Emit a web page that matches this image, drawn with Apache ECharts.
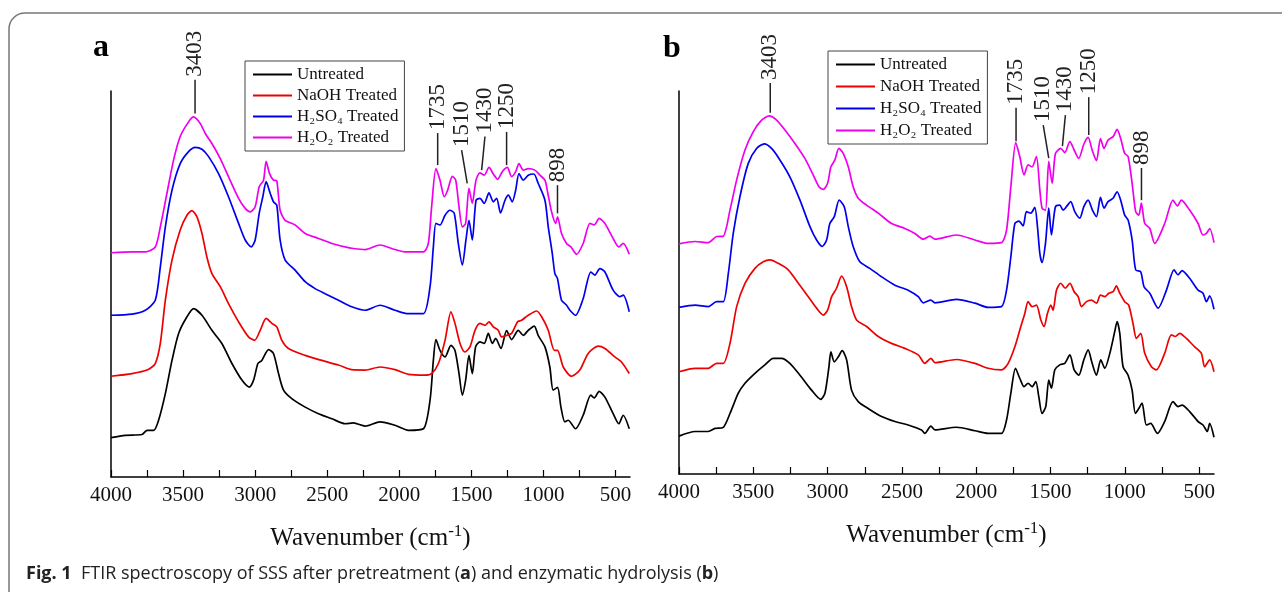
<!DOCTYPE html>
<html>
<head>
<meta charset="utf-8">
<title>FTIR spectroscopy of SSS</title>
<script src="https://cdn.jsdelivr.net/npm/echarts@6/dist/echarts.min.js"></script>
<style>
  html, body { margin: 0; padding: 0; background: #fff; }
  #chart { width: 1282px; height: 592px; }
</style>
</head>
<body>
<div id="chart"></div>
<script>
// series names (legend)
const names = ['Untreated', 'NaOH Treated', 'H₂SO₄ Treated', 'H₂O₂ Treated']
const colors = ['#000000', '#ee0000', '#0000ee', '#ee00ee']

// x axis: wavenumber (cm-1), labels every 500, ticks every 250
const tickLabels = [4000, 3500, 3000, 2500, 2000, 1500, 1000, 500]
const tickMarks = [4000, 3750, 3500, 3250, 3000, 2750, 2500, 2250, 2000, 1750, 1500, 1250, 1000, 750, 500]

// panel a: after pretreatment, [wavenumber, absorbance (a.u., offset)]
const aUntreated = [[4000,10.2],[3901,10.8],[3785,11.0],[3750,12.1],[3704,12.1],[3670,14.7],[3623,21.6],[3577,30.2],[3531,37.2],[3473,41.5],[3427,43.6],[3369,41.9],[3300,38.0],[3231,34.6],[3161,29.4],[3092,25.1],[3041,23.3],[3011,25.1],[2981,29.4],[2954,30.2],[2907,33.0],[2873,32.0],[2838,26.8],[2803,22.5],[2746,20.3],[2653,18.1],[2561,16.4],[2468,15.1],[2376,13.8],[2318,14.0],[2237,13.2],[2134,14.3],[2030,13.4],[1937,12.1],[1833,12.5],[1787,19.9],[1764,30.2],[1746,35.6],[1718,32.8],[1683,31.1],[1642,34.1],[1614,32.8],[1586,26.8],[1563,21.2],[1540,25.1],[1517,31.5],[1494,26.8],[1471,33.7],[1441,35.0],[1411,34.6],[1383,37.2],[1355,34.6],[1332,35.9],[1295,33.3],[1256,37.9],[1221,35.6],[1175,38.0],[1140,36.7],[1106,38.0],[1064,39.1],[1037,36.7],[990,33.7],[956,28.5],[933,22.5],[903,23.2],[879,18.1],[852,14.3],[829,14.7],[778,12.5],[725,16.0],[672,21.2],[648,20.5],[614,22.2],[574,20.7],[517,16.4],[478,13.8],[447,16.0],[405,12.5]]
const aNaOH = [[4000,26.1],[3854,26.8],[3750,27.7],[3693,29.4],[3658,34.6],[3623,45.8],[3577,56.2],[3520,64.0],[3473,67.8],[3439,69.0],[3404,67.4],[3369,63.1],[3335,57.0],[3300,52.7],[3242,49.3],[3185,44.9],[3115,40.2],[3046,36.3],[3004,35.4],[2965,38.0],[2924,41.1],[2884,39.8],[2850,38.9],[2815,35.4],[2769,33.3],[2653,31.5],[2538,30.2],[2422,29.0],[2330,27.8],[2237,27.7],[2134,28.5],[2030,27.8],[1937,26.6],[1822,26.4],[1776,26.8],[1729,29.4],[1683,35.4],[1642,42.8],[1614,39.8],[1579,34.6],[1545,32.4],[1510,33.7],[1475,38.0],[1441,39.8],[1406,39.3],[1378,40.2],[1348,38.9],[1314,38.0],[1291,36.3],[1256,36.7],[1221,37.2],[1180,40.2],[1152,40.6],[1106,41.9],[1048,43.0],[1013,41.5],[967,38.0],[925,32.8],[903,32.8],[863,28.5],[806,26.1],[748,27.7],[690,32.0],[621,33.9],[574,33.3],[505,31.1],[459,29.8],[405,26.8]]
const aH2SO4 = [[4000,41.9],[3854,42.2],[3762,43.2],[3693,45.8],[3658,54.4],[3623,64.8],[3577,74.3],[3520,81.2],[3462,84.3],[3416,85.4],[3369,84.9],[3323,83.0],[3254,78.6],[3185,72.6],[3115,65.7],[3069,61.4],[3027,59.6],[3000,61.4],[2972,68.3],[2947,72.6],[2924,76.5],[2896,73.5],[2873,71.3],[2850,70.4],[2827,61.4],[2792,56.2],[2723,53.6],[2653,50.6],[2584,48.8],[2515,47.5],[2422,45.8],[2330,44.1],[2237,43.2],[2134,44.5],[2030,43.2],[1937,42.3],[1833,42.3],[1787,49.3],[1764,59.6],[1746,65.7],[1718,65.3],[1683,67.8],[1649,69.1],[1619,68.3],[1591,60.5],[1563,54.9],[1538,61.4],[1517,66.5],[1494,61.4],[1468,71.7],[1441,72.2],[1411,70.9],[1378,73.6],[1348,71.3],[1325,72.2],[1298,68.4],[1267,71.7],[1244,73.0],[1217,71.3],[1193,74.3],[1170,78.6],[1140,76.9],[1106,78.2],[1067,78.5],[1037,76.1],[990,71.7],[967,64.8],[939,57.9],[921,52.7],[903,51.4],[875,45.8],[840,44.5],[817,43.2],[778,41.9],[725,46.2],[672,53.1],[644,52.3],[609,54.0],[574,53.1],[517,48.4],[470,46.7],[447,47.1],[405,42.8]]
const aH2O2 = [[4000,58.1],[3854,58.3],[3762,58.3],[3693,59.6],[3658,64.8],[3612,73.5],[3566,82.1],[3520,88.2],[3462,92.0],[3427,93.3],[3381,91.6],[3346,89.0],[3300,86.4],[3242,82.5],[3185,77.8],[3115,72.2],[3069,69.6],[3034,68.7],[3000,70.0],[2972,75.2],[2942,76.9],[2924,81.8],[2900,78.6],[2873,76.9],[2850,76.7],[2827,69.1],[2792,66.5],[2723,65.3],[2653,63.1],[2561,61.8],[2468,60.5],[2376,59.6],[2318,59.2],[2237,58.9],[2134,60.1],[2053,59.2],[1960,58.3],[1833,58.3],[1799,60.5],[1776,70.0],[1746,79.9],[1718,76.9],[1688,72.6],[1665,74.3],[1632,77.9],[1609,76.9],[1586,70.0],[1563,64.8],[1540,65.7],[1517,74.8],[1494,70.9],[1468,76.9],[1441,78.8],[1411,78.2],[1378,80.2],[1348,78.5],[1318,77.1],[1286,79.1],[1251,80.2],[1221,77.8],[1193,79.1],[1170,81.2],[1140,79.5],[1106,79.9],[1060,79.5],[1025,78.2],[990,76.9],[972,73.9],[944,68.7],[916,65.7],[903,67.4],[875,63.1],[840,60.5],[810,59.6],[771,57.7],[725,60.5],[678,65.7],[648,65.3],[614,67.0],[574,65.7],[517,61.8],[478,59.6],[447,60.5],[405,57.7]]

// panel b: after enzymatic hydrolysis
const bUntreated = [[4000,9.9],[3892,11.1],[3803,11.1],[3758,11.9],[3702,12.2],[3657,15.8],[3601,21.1],[3556,23.7],[3489,26.3],[3422,28.5],[3366,30.2],[3310,30.2],[3254,28.9],[3186,25.8],[3108,21.9],[3047,19.5],[3018,21.1],[2991,28.0],[2978,31.9],[2955,29.3],[2928,30.6],[2902,32.2],[2872,29.8],[2839,21.9],[2794,18.9],[2727,17.1],[2637,15.0],[2547,13.7],[2458,12.8],[2368,11.5],[2346,10.6],[2305,12.5],[2278,11.5],[2133,12.2],[2009,11.3],[1920,10.6],[1830,10.6],[1796,14.1],[1767,21.1],[1736,27.6],[1707,25.0],[1678,22.8],[1651,23.7],[1624,22.8],[1599,24.1],[1579,20.2],[1557,15.8],[1532,17.6],[1512,24.5],[1494,22.4],[1471,27.2],[1438,28.5],[1404,28.9],[1370,31.1],[1341,27.2],[1310,25.8],[1276,29.8],[1247,32.4],[1220,28.9],[1191,25.8],[1162,29.8],[1135,27.6],[1101,31.5],[1068,37.2],[1052,39.8],[1034,36.7],[1012,28.0],[978,25.8],[951,21.9],[929,15.8],[906,17.1],[884,18.5],[855,12.8],[826,13.2],[781,10.6],[732,13.7],[676,18.9],[642,17.6],[615,18.0],[564,16.3],[507,13.7],[474,12.8],[445,11.1],[429,13.2],[400,9.6]]
const bNaOH = [[4000,26.7],[3892,27.6],[3803,27.6],[3747,28.9],[3702,28.9],[3657,34.1],[3612,43.7],[3556,49.8],[3489,53.7],[3433,55.4],[3388,55.9],[3332,55.0],[3265,53.3],[3197,49.8],[3130,46.3],[3074,43.3],[3029,41.5],[3000,42.8],[2973,46.3],[2940,48.5],[2906,51.7],[2872,48.9],[2839,43.7],[2805,40.2],[2738,38.5],[2659,35.9],[2570,34.1],[2480,32.8],[2390,31.1],[2346,28.9],[2305,30.2],[2278,29.1],[2133,29.9],[2009,28.9],[1920,27.6],[1830,27.2],[1785,28.9],[1740,33.2],[1700,38.5],[1673,41.9],[1651,45.0],[1624,43.7],[1595,44.1],[1565,40.2],[1543,38.5],[1521,41.9],[1498,44.1],[1483,42.8],[1460,48.0],[1431,49.8],[1400,48.5],[1370,49.8],[1341,47.6],[1314,46.3],[1292,43.7],[1258,45.0],[1225,45.4],[1191,44.6],[1164,46.7],[1135,46.3],[1108,47.2],[1079,47.6],[1057,49.1],[1034,47.2],[1001,45.0],[974,44.1],[945,39.3],[922,35.4],[893,36.7],[866,31.5],[821,28.0],[788,27.2],[732,31.5],[687,36.3],[660,35.9],[631,36.7],[586,35.4],[530,33.2],[485,31.5],[463,28.0],[429,29.8],[400,26.7]]
const bH2SO4 = [[4000,43.5],[3892,44.1],[3803,43.7],[3747,45.0],[3702,45.0],[3668,52.4],[3635,62.8],[3590,72.4],[3534,81.1],[3478,85.0],[3426,86.2],[3377,85.0],[3321,82.0],[3254,77.6],[3186,71.5],[3119,64.6],[3074,61.1],[3036,59.4],[3007,61.1],[2985,65.4],[2955,67.2],[2922,71.5],[2888,69.8],[2861,64.6],[2828,59.4],[2783,55.4],[2716,53.7],[2637,51.5],[2547,49.3],[2458,48.0],[2390,46.3],[2357,44.7],[2305,45.4],[2278,44.7],[2133,45.6],[2009,44.6],[1920,43.5],[1830,43.7],[1796,48.0],[1767,56.7],[1740,65.4],[1713,66.0],[1684,64.8],[1662,68.5],[1633,68.1],[1606,69.6],[1588,64.6],[1572,57.6],[1557,55.2],[1534,60.2],[1512,69.4],[1494,62.4],[1467,69.8],[1438,70.2],[1415,68.9],[1393,69.8],[1364,71.1],[1337,68.5],[1303,66.8],[1276,69.8],[1247,71.5],[1218,68.9],[1191,67.2],[1164,72.2],[1140,69.4],[1113,71.1],[1079,72.0],[1052,73.7],[1028,71.5],[1001,67.6],[978,66.3],[951,61.1],[927,53.3],[893,52.8],[871,48.9],[832,47.2],[776,43.3],[720,48.0],[669,53.3],[642,52.0],[615,53.1],[564,51.1],[507,48.0],[474,47.2],[451,45.0],[429,46.5],[400,43.0]]
const bH2O2 = [[4000,60.1],[3892,60.7],[3803,60.4],[3747,62.0],[3702,62.1],[3657,68.9],[3612,76.8],[3556,84.6],[3500,89.4],[3444,92.4],[3393,93.5],[3343,92.4],[3287,89.8],[3220,86.3],[3153,82.4],[3097,78.1],[3058,75.0],[3029,74.3],[3000,75.9],[2978,80.2],[2951,82.0],[2924,85.0],[2895,83.7],[2861,80.2],[2828,75.0],[2794,72.0],[2738,70.2],[2659,68.1],[2570,65.4],[2480,64.1],[2413,62.8],[2357,61.3],[2312,62.1],[2278,61.3],[2133,62.4],[2009,61.1],[1920,60.2],[1830,60.4],[1796,63.7],[1767,75.0],[1734,86.5],[1707,82.9],[1678,78.1],[1651,80.7],[1624,80.2],[1595,82.9],[1572,74.2],[1557,69.4],[1534,68.9],[1512,81.6],[1489,75.9],[1467,83.7],[1431,85.0],[1404,83.9],[1370,86.8],[1341,84.6],[1310,82.4],[1276,86.1],[1247,87.9],[1220,84.6],[1191,81.8],[1164,87.6],[1140,85.0],[1113,87.2],[1079,88.1],[1052,90.0],[1028,87.6],[1001,83.7],[978,82.9],[951,75.9],[927,68.5],[906,67.6],[889,70.7],[866,65.4],[832,64.1],[799,60.2],[732,65.4],[676,71.5],[646,70.0],[620,71.5],[564,68.9],[507,65.4],[474,62.4],[451,62.8],[429,64.1],[400,60.4]]

// peak annotations: [label x, label y, peak x, peak y] in axis units
const annoLabels = ['3403', '1735', '1510', '1430', '1250', '898']
const annoA = [[3417,102.9,3417,94.2],[1734,89.1,1734,80.8],[1568,84.7,1529,76.1],[1406,88.2,1429,79.5],[1256,89.4,1256,80.8],[903,75.6,903,68.3]]
const annoB = [[3386,102.1,3386,94.3],[1732,95.6,1732,86.9],[1549,91.1,1512,82.5],[1400,93.7,1420,85.6],[1243,98.4,1243,88.5],[888,79.9,888,71.5]]

const serif = 'Liberation Serif, Times New Roman, serif'
const sans = '"Open Sans", "Noto Sans", sans-serif'
const chart = echarts.init(document.getElementById('chart'), null, { renderer: 'canvas' })

function xAxisFor(gridIndex) {
  return {
    type: 'value',
    gridIndex: gridIndex,
    inverse: true,
    min: 400,
    max: 4000,
    name: '{t|Wavenumber (cm}{s|-1}{t|)}',
    nameLocation: 'middle',
    nameGap: 46,
    nameTextStyle: {
      rich: {
        t: { fontFamily: serif, fontSize: 25, color: '#111', lineHeight: 30 },
        s: { fontFamily: serif, fontSize: 17, color: '#111', lineHeight: 30, verticalAlign: 'top' }
      }
    },
    axisLine: { lineStyle: { color: '#000', width: 1.5 } },
    axisTick: { inside: true, length: 7, customValues: tickMarks, lineStyle: { color: '#000', width: 1.2 } },
    axisLabel: {
      customValues: tickLabels,
      margin: 8,
      fontFamily: serif,
      fontSize: 21,
      color: '#111',
      formatter: function (v) { return String(v) }
    },
    splitLine: { show: false }
  }
}

function yAxisFor(gridIndex) {
  return {
    type: 'value',
    gridIndex: gridIndex,
    min: 0,
    max: 100,
    axisLine: { show: true, lineStyle: { color: '#000', width: 1.5 } },
    axisTick: { show: false },
    axisLabel: { show: false },
    splitLine: { show: false }
  }
}

function lineSeries(name, data, idx, color) {
  return {
    name: name,
    type: 'line',
    xAxisIndex: idx,
    yAxisIndex: idx,
    data: data,
    symbol: 'none',
    smooth: 0.25,
    lineStyle: { color: color, width: 1.7 },
    itemStyle: { color: color },
    animation: false
  }
}

function annoSeries(anno, idx) {
  return {
    type: 'custom',
    xAxisIndex: idx,
    yAxisIndex: idx,
    data: anno,
    clip: false,
    silent: true,
    animation: false,
    renderItem: function (params, api) {
      const top = api.coord([api.value(0), api.value(1)])
      const bot = api.coord([api.value(2), api.value(3)])
      return {
        type: 'group',
        children: [{
          type: 'line',
          shape: { x1: top[0], y1: top[1], x2: bot[0], y2: bot[1] },
          style: { stroke: '#222', lineWidth: 1.5 }
        }, {
          type: 'text',
          x: top[0],
          y: top[1] - 3,
          rotation: Math.PI / 2,
          style: {
            text: annoLabels[params.dataIndex],
            font: '23px ' + serif,
            fill: '#222',
            align: 'left',
            verticalAlign: 'middle'
          }
        }]
      }
    }
  }
}

function legendFor(left, top, gap) {
  return {
    data: names,
    orient: 'vertical',
    left: left,
    top: top,
    icon: 'rect',
    itemWidth: 39,
    itemHeight: 2,
    itemGap: gap,
    padding: [5, 6, 5, 8],
    borderColor: '#444',
    borderWidth: 1,
    textStyle: { fontFamily: serif, fontSize: 17, lineHeight: 17, color: '#111' }
  }
}

const aSets = [aUntreated, aNaOH, aH2SO4, aH2O2]
const bSets = [bUntreated, bNaOH, bH2SO4, bH2O2]
const series = []
aSets.forEach((d, i) => series.push(lineSeries(names[i], d, 0, colors[i])))
bSets.forEach((d, i) => series.push(lineSeries(names[i], d, 1, colors[i])))
series.push(annoSeries(annoA, 0))
series.push(annoSeries(annoB, 1))

chart.setOption({
  backgroundColor: '#fff',
  animation: false,
  grid: [
    { left: 111, top: 91, width: 519, height: 386 },
    { left: 679, top: 91, width: 535, height: 383 }
  ],
  xAxis: [xAxisFor(0), xAxisFor(1)],
  yAxis: [yAxisFor(0), yAxisFor(1)],
  legend: [legendFor(245, 61, 4), legendFor(828, 51, 5)],
  series: series,
  graphic: [
    {
      // figure frame
      type: 'rect',
      shape: { x: 9, y: 13, width: 1300, height: 620, r: 16 },
      style: { fill: 'none', stroke: '#777', lineWidth: 1.5 },
      silent: true
    },
    {
      type: 'text', x: 101, y: 48,
      style: { text: 'a', font: 'bold 32px ' + serif, fill: '#000', align: 'center', verticalAlign: 'middle' }
    },
    {
      type: 'text', x: 672, y: 49,
      style: { text: 'b', font: 'bold 32px ' + serif, fill: '#000', align: 'center', verticalAlign: 'middle' }
    },
    {
      type: 'text', x: 26, y: 574,
      style: {
        text: '{b|Fig. 1}  FTIR spectroscopy of SSS after pretreatment ({b|a}) and enzymatic hydrolysis ({b|b})',
        font: '18px ' + sans,
        fill: '#222',
        verticalAlign: 'middle',
        rich: { b: { fontWeight: 'bold', fontFamily: sans, fontSize: 18, fill: '#222' } }
      }
    }
  ]
})
</script>
</body>
</html>
